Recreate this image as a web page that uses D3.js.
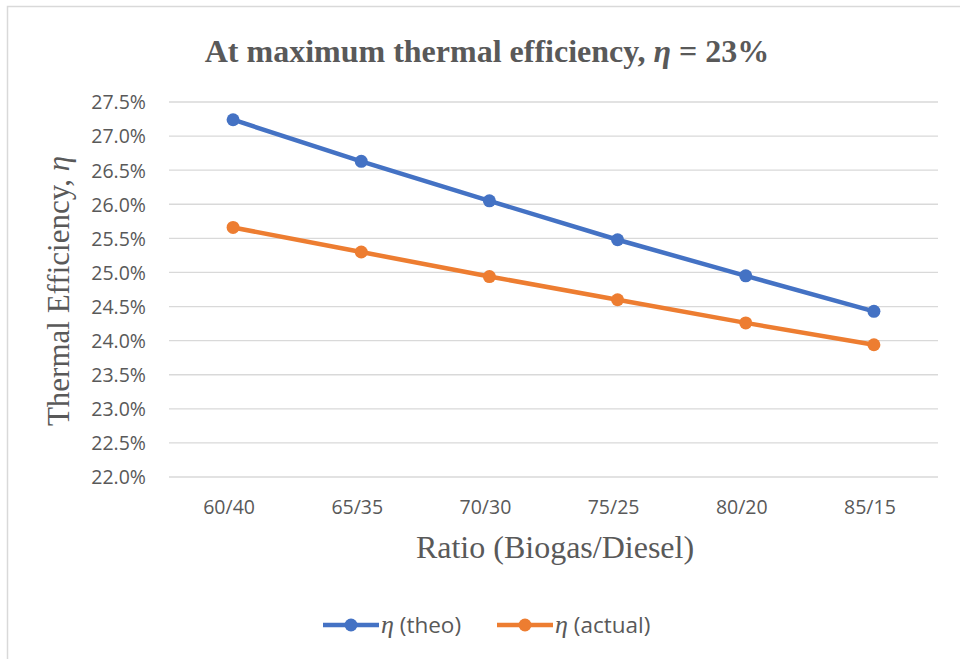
<!DOCTYPE html>
<html>
<head>
	<meta charset="utf-8">
	<script src="https://d3js.org/d3.v7.min.js"></script>
	<style>
		body { margin: 0; background: #fff; }
		svg text { fill: #595959; }
		.tick text { font-family: 'Open Sans', sans-serif; font-size: 19.5px; }
		.serif { font-family: 'Liberation Serif', 'Times New Roman', serif; }
	</style>
</head>
<body>
<script>
	// data
	var ratios = ['60/40', '65/35', '70/30', '75/25', '80/20', '85/15'];
	var theo = [27.24, 26.63, 26.05, 25.48, 24.95, 24.43];
	var actual = [25.66, 25.30, 24.94, 24.60, 24.26, 23.94];
	var yTicks = [22.0, 22.5, 23.0, 23.5, 24.0, 24.5, 25.0, 25.5, 26.0, 26.5, 27.0, 27.5];
	var seriesNames = ['\u03b7 (theo)', '\u03b7 (actual)'];
	var colors = ['#4472c4', '#ed7d31'];

	var w = 960, h = 659;
	var plotLeft = 169, plotRight = 938, plotTop = 102, plotBottom = 477;

	var svg = d3.select('body').append('svg')
		.attr('width', w)
		.attr('height', h);

	svg.append('rect')
		.attr('x', 7.5).attr('y', 6.5)
		.attr('width', 970).attr('height', 670)
		.attr('fill', '#fff')
		.attr('stroke', '#d9d9d9')
		.attr('stroke-width', 1.5);

	var x = d3.scaleBand().domain(ratios).range([plotLeft, plotRight]);
	var y = d3.scaleLinear().domain([22, 27.5]).range([plotBottom, plotTop]);

	// gridlines
	svg.append('g')
		.selectAll('line')
		.data(yTicks)
		.enter()
		.append('line')
		.attr('x1', plotLeft).attr('x2', plotRight)
		.attr('y1', function(d){ return y(d); })
		.attr('y2', function(d){ return y(d); })
		.attr('stroke', '#d9d9d9')
		.attr('stroke-width', 1.3);

	var yAxis = svg.append('g')
		.attr('transform', 'translate(' + (plotLeft - 23) + ',0)')
		.call(d3.axisLeft(y).tickValues(yTicks).tickSize(0).tickPadding(0)
			.tickFormat(function(d){ return d.toFixed(1) + '%'; }));
	yAxis.select('.domain').remove();
	yAxis.selectAll('text').attr('dy', '0.35em');

	var xAxis = svg.append('g')
		.attr('transform', 'translate(-4,' + plotBottom + ')')
		.call(d3.axisBottom(x).tickSize(0).tickPadding(23));
	xAxis.select('.domain').remove();

	// title
	var title = svg.append('text')
		.attr('class', 'serif')
		.attr('x', 487).attr('y', 62)
		.attr('text-anchor', 'middle')
		.style('font-size', '32px')
		.style('font-weight', 'bold');
	title.append('tspan').text('At maximum thermal efficiency, ');
	title.append('tspan').style('font-style', 'italic').text('\u03b7');
	title.append('tspan').text(' = 23%');

	var yt = svg.append('text')
		.attr('class', 'serif')
		.attr('transform', 'translate(58,291) rotate(-90)')
		.attr('text-anchor', 'middle')
		.attr('dy', '0.35em')
		.style('font-size', '31px');
	yt.append('tspan').text('Thermal Efficiency, ');
	yt.append('tspan').style('font-style', 'italic').text('\u03b7');

	svg.append('text')
		.attr('class', 'serif')
		.attr('x', 555)
		.attr('y', 558)
		.attr('text-anchor', 'middle')
		.style('font-size', '32px')
		.text('Ratio (Biogas/Diesel)');

	var line = d3.line()
		.x(function(d, i){ return x(ratios[i]) + x.bandwidth() / 2; })
		.y(function(d){ return y(d); });

	[theo, actual].forEach(function(vals, k){
		svg.append('path')
			.datum(vals)
			.attr('d', line)
			.attr('fill', 'none')
			.attr('stroke', colors[k])
			.attr('stroke-width', 4.5)
			.attr('stroke-linejoin', 'round');
		svg.append('g')
			.selectAll('circle')
			.data(vals)
			.enter()
			.append('circle')
			.attr('cx', function(d, i){ return x(ratios[i]) + x.bandwidth() / 2; })
			.attr('cy', function(d){ return y(d); })
			.attr('r', 6.5)
			.attr('fill', colors[k]);
	});

	// legend
	var legX = [323, 497];
	seriesNames.forEach(function(name, k){
		var g = svg.append('g').attr('transform', 'translate(' + legX[k] + ',625)');
		g.append('line')
			.attr('x1', 0).attr('x2', 56)
			.attr('stroke', colors[k])
			.attr('stroke-width', 4.5);
		g.append('circle')
			.attr('cx', 28).attr('r', 6.5)
			.attr('fill', colors[k]);
		var t = g.append('text')
			.attr('x', 58).attr('dy', '0.35em')
			.style('font-family', "'Open Sans', sans-serif")
			.style('font-size', '22.5px');
		t.append('tspan').style('font-style', 'italic')
			.style('font-family', "'Liberation Serif', serif")
			.style('font-size', '26px').text('\u03b7');
		t.append('tspan').text(name.slice(1));
	});
</script>
</body>
</html>
